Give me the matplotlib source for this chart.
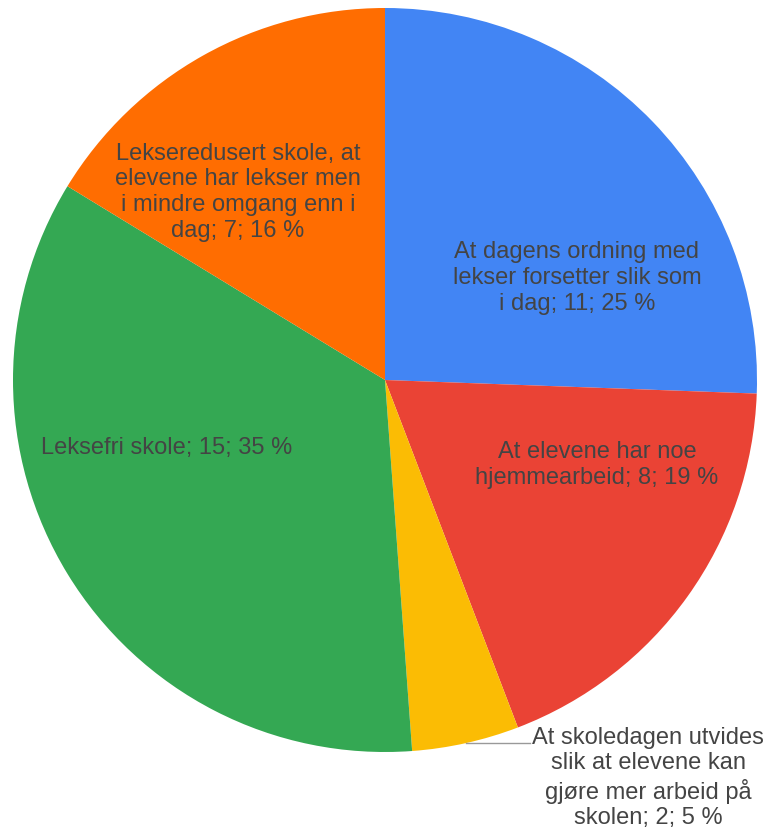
import numpy as np
import matplotlib
matplotlib.use("Agg")
import matplotlib.pyplot as plt

# slices in clockwise order starting at 12 o'clock
labels = [
    "At dagens ordning med\nlekser forsetter slik som\ni dag; 11; 25 %",
    "At elevene har noe\nhjemmearbeid; 8; 19 %",
    "At skoledagen utvides\nslik at elevene kan\ngjøre mer arbeid på\nskolen; 2; 5 %",
    "Leksefri skole; 15; 35 %",
    "Lekseredusert skole, at\nelevene har lekser men\ni mindre omgang enn i\ndag; 7; 16 %",
]
values = [11, 8, 2, 15, 7]
colors = ["#4285F4", "#EA4335", "#FBBC04", "#34A853", "#FF6D01"]

# label centres in axes data units (pie radius = 1)
label_pos = [(0.516, 0.274), (0.570, -0.228), (0.707, -1.07), (-0.586, -0.183), (-0.395, 0.505)]

plt.rcParams["font.family"] = ["Liberation Sans", "DejaVu Sans"]

fig = plt.figure(figsize=(7.68, 8.32), dpi=100)
ax = fig.add_axes([13 / 768, 80 / 832, 744 / 768, 744 / 832])

wedges, _ = ax.pie(values, colors=colors, startangle=90, counterclock=False,
                   radius=1, wedgeprops={"linewidth": 0})

text_color = "#444444"
for i, lab in enumerate(labels):
    x, y = label_pos[i]
    ax.text(x, y, lab, ha="center", va="center", fontsize=17,
            color=text_color, linespacing=1.22)

# leader line for the small yellow slice
start = sum(values[:2])
mid = (start + values[2] / 2) / sum(values)
ang = np.deg2rad(90 - mid * 360)
ex, ey = np.cos(ang), np.sin(ang)
ax.plot([ex, 0.39], [ey, ey], color="#999999", linewidth=1)

ax.set_xlim(-1, 1)
ax.set_ylim(-1, 1)
ax.set_aspect("equal")
ax.axis("off")

fig.savefig("out.png", dpi=100)
